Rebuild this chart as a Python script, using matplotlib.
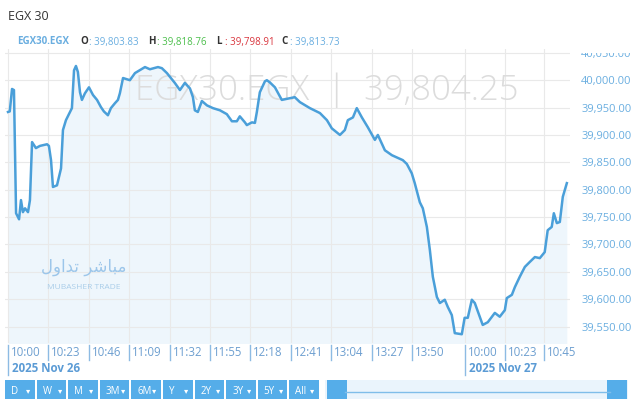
import numpy as np
import matplotlib
matplotlib.use("Agg")
import matplotlib.pyplot as plt
from matplotlib.patches import Rectangle

# --- data (minutes after 10:00 of each session) ---
day1_min = [0, 1, 2.3, 3.4, 4.6, 6.3, 7.4, 8.5, 9.7, 11.4, 12.5, 13.7, 15.9, 18.2, 22.2, 23.3,
            24.5, 25.6, 27.9, 29, 30.2, 31.3, 33, 35.3, 36.4, 37.6, 38.7, 39.8, 41, 42.1, 43.8,
            46.1, 48.4, 50.7, 52.9, 54.6, 56.9, 58.6, 60.9, 62.6, 63.7, 65.5, 69.4, 72.3, 78,
            80.8, 85.4, 87.6, 90.5, 95, 97.9, 100.7, 103.6, 105.3, 106.4, 108.1, 110.4, 113.3,
            116.7, 120.7, 124.6, 127.5, 130.3, 132, 134.9, 136, 138.9, 140.6, 141.7, 143.4,
            146.3, 147.4, 149.1, 152, 155.9, 160.5, 163.3, 166.2, 171.9, 177.6, 181.6, 184.4,
            189, 191.8, 193.5, 196.4, 198.6, 201.5, 204.9, 208.9, 210.6, 214.6, 218.6, 221.4,
            224.8, 227.1, 229.9, 231.6, 234.5, 236.2, 238.5, 240.2, 241.9, 244.2, 245.9, 248.7,
            250.4, 252.7, 254.4, 258.4]
day1_val = [39942, 39943, 39984, 39982, 39757, 39746, 39781, 39759, 39766, 39759, 39781, 39887,
            39876, 39880, 39883, 39880, 39854, 39805, 39808, 39823, 39839, 39909, 39927, 39942,
            39949, 40018, 40026, 40015, 39978, 39964, 39976, 39987, 39973, 39964, 39951, 39943,
            39936, 39949, 39958, 39964, 39976, 40004, 40000, 40013, 40024, 40020, 40024, 40022,
            40013, 39995, 39982, 39995, 39985, 39969, 39945, 39942, 39962, 39954, 39949, 39945,
            39938, 39925, 39925, 39934, 39923, 39918, 39923, 39922, 39942, 39978, 39998, 40000,
            39996, 39987, 39964, 39967, 39969, 39960, 39949, 39940, 39927, 39912, 39900, 39909,
            39927, 39932, 39949, 39932, 39914, 39891, 39900, 39872, 39863, 39859, 39854, 39847,
            39830, 39812, 39777, 39766, 39732, 39690, 39641, 39604, 39593, 39599, 39586, 39571,
            39538, 39536]
day2_min = [0, 1.8, 4.1, 5.8, 8.6, 10.3, 13.2, 17.2, 20, 22.9, 24, 26.9, 28.6, 31.4, 34.3,
            37.1, 40, 42.8, 45.6, 47.3, 49.6, 50.8, 52.5, 54.2, 55.9, 58.2]
day2_val = [39566, 39566, 39599, 39593, 39568, 39553, 39558, 39575, 39568, 39580, 39602, 39608,
            39622, 39641, 39659, 39668, 39677, 39675, 39686, 39726, 39732, 39757, 39739, 39741,
            39787, 39812]
session_gap = 260  # position of day 2 on the compressed time axis

day1_ticks = ["10:00", "10:23", "10:46", "11:09", "11:32", "11:55", "12:18", "12:41",
              "13:04", "13:27", "13:50"]
day2_ticks = ["10:00", "10:23", "10:45"]
day_labels = ["2025 Nov 26", "2025 Nov 27"]
y_ticks = [39550, 39600, 39650, 39700, 39750, 39800, 39850, 39900, 39950, 40000, 40050]
ohlc = [("O", "39,803.83", "#6aaee0"), ("H", "39,818.76", "#4cbf4c"),
        ("L", "39,798.91", "#d9363e"), ("C", "39,813.73", "#6aaee0")]
ranges = ["D", "W", "M", "3M", "6M", "Y", "2Y", "3Y", "5Y", "All"]

plt.rcParams['font.family'] = ['Open Sans', 'DejaVu Sans']

W, H = 640, 399
fig = plt.figure(figsize=(6.4, 3.99), dpi=100)

def fx(x):
    return x / W

def fy(y):
    return 1 - y / H

# axes box in pixels
L, R, T, B = 5, 570, 49, 343
ax = fig.add_axes([fx(L), fy(B), fx(R - L), (B - T) / H])

def tmin(hhmm):
    h, m = hhmm.split(":")
    return (int(h) - 10) * 60 + int(m)

x = np.array(day1_min + [session_gap + m for m in day2_min])
y = np.array(day1_val + day2_val)

blue = "#4a9fd9"
ax.fill_between(x, y, 39400, color="#e8f3fb", alpha=0.7, zorder=1, lw=0)
ax.plot(x, y, color=blue, lw=1.8, zorder=3, solid_joinstyle="round")

ax.set_xlim(-1.7, 320)
ax.set_ylim(39520, 40057)

xt = [tmin(t) for t in day1_ticks] + [session_gap + tmin(t) for t in day2_ticks]
ax.set_xticks(xt)
ax.set_yticks(y_ticks)
ax.grid(True, color="#e9e9e9", lw=0.8, zorder=0)
for s in ax.spines.values():
    s.set_visible(False)
ax.tick_params(axis="x", length=0, labelbottom=False)
ax.yaxis.tick_right()
ax.tick_params(axis="y", length=0, pad=8, labelsize=8, labelcolor="#6aaee0")
ax.set_yticklabels([f"{v:,.2f}" for v in y_ticks])

# time labels with separators under the axis
xtr = ax.get_xaxis_transform()
lab_color = "#6d9fd0"
def below(px):
    return -(px - B) / (B - T)

labels = day1_ticks + day2_ticks
for i, (pos, lab) in enumerate(zip(xt, labels)):
    long_tick = i == 0 or i == len(day1_ticks)
    ax.plot([pos, pos], [below(345), below(375 if long_tick else 360)], transform=xtr,
            color="#8dbbe3", lw=1, clip_on=False)
    ax.annotate(lab, xy=(pos, below(353)), xycoords=xtr, xytext=(3, 0),
                textcoords="offset pixels", ha="left", va="center", fontsize=8.3,
                color=lab_color, annotation_clip=False)
for pos, lab in zip([xt[0], xt[len(day1_ticks)]], day_labels):
    ax.annotate(lab, xy=(pos, below(369)), xycoords=xtr, xytext=(4, 0),
                textcoords="offset pixels", ha="left", va="center", fontsize=8.3,
                fontweight="bold", color="#5b9bd5", annotation_clip=False)

# watermark
ax.text(0.57, 0.86, "EGX30.EGX  |  39,804.25", transform=ax.transAxes, ha="center",
        va="center", fontsize=25, color="#dcdcdc", fontweight="light", zorder=2)
ax.text(0.14, 0.26, "\uFEDD\uFEED\uFE8D\uFEAA\uFE97 \uFEAE\uFEB7\uFE8E\uFE92\uFEE3",
        transform=ax.transAxes, ha="center", va="center", fontsize=12,
        family="DejaVu Sans", color="#9cc6ea", zorder=2)
ax.text(0.14, 0.19, "MUBASHER TRADE", transform=ax.transAxes, ha="center", va="center",
        fontsize=6, color="#a9cde9", zorder=2)

# cover the top half of the cut-off top label
fig.patches.append(Rectangle((fx(R), fy(53)), 1 - fx(R), 1 - fy(53), transform=fig.transFigure,
                             facecolor="white", edgecolor="none", zorder=5))

# header
fig.text(fx(8), fy(16), "EGX 30", fontsize=9, color="#333333", va="center", zorder=6)
fig.text(fx(17), fy(42), "EGX30.EGX", fontsize=7, fontweight="bold", color="#6aaee0",
         va="center", zorder=6)
xs = [80, 148, 216, 281]
for xp, (k, v, c) in zip(xs, ohlc):
    fig.text(fx(xp), fy(42), k, fontsize=7, fontweight="bold", color="#333333",
             va="center", zorder=6)
    fig.text(fx(xp + 9), fy(42), ": " + v, fontsize=7, color=c, va="center", zorder=6)

# range buttons
for i, r in enumerate(ranges):
    x0 = 5 + i * 31.6
    fig.patches.append(Rectangle((fx(x0), 0), fx(29.5), fy(380), transform=fig.transFigure,
                                 facecolor="#55ade9", edgecolor="none"))
    fig.text(fx(x0 + 6), fy(391), r, fontsize=7, color="white", va="center")
    fig.text(fx(x0 + 23), fy(391), "\u25BE", fontsize=6, color="white", va="center",
             ha="center", family="DejaVu Sans")

# scroller
fig.patches.append(Rectangle((fx(325), 0), fx(303), fy(380), transform=fig.transFigure,
                             facecolor="#eaf4fc", edgecolor="none"))
fig.lines.append(plt.Line2D([fx(345), fx(610)], [fy(392), fy(392)],
                            transform=fig.transFigure, color="#7fbde9", lw=1))
for hx in (327, 607):
    fig.patches.append(Rectangle((fx(hx), 0), fx(20), fy(380), transform=fig.transFigure,
                                 facecolor="#55ade9", edgecolor="none"))

fig.savefig("out.png", dpi=100)
